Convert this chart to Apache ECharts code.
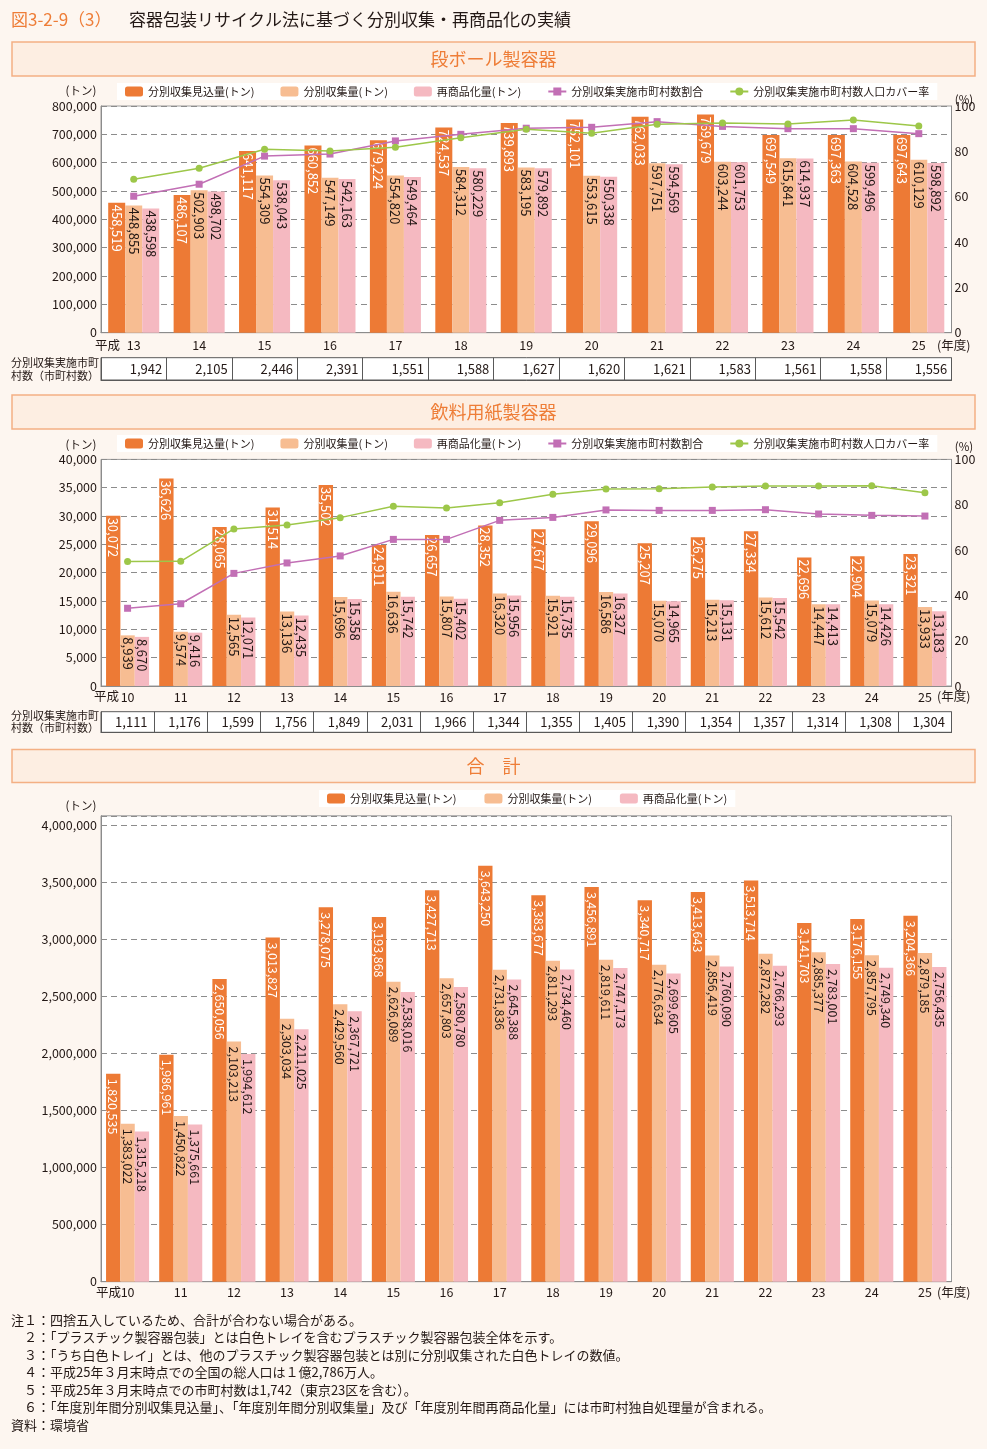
<!DOCTYPE html>
<html><head><meta charset="utf-8">
<script src="https://cdn.jsdelivr.net/npm/echarts@6/dist/echarts.min.js"></script>
<style>html,body{margin:0;padding:0;background:#fdf6f0;}#c{width:987px;height:1449px;}</style>
</head><body><div id="c"></div>
<script>
// ---------- data ----------
const yearsA = ['13','14','15','16','17','18','19','20','21','22','23','24','25'];
const yearsB = ['10','11','12','13','14','15','16','17','18','19','20','21','22','23','24','25'];
const seriesNames = ['分別収集見込量(トン)','分別収集量(トン)','再商品化量(トン)','分別収集実施市町村数割合','分別収集実施市町村数人口カバー率'];

// 段ボール製容器 (H13-H25)
const cardEst = [458519,486107,641117,660852,679224,724537,739893,752101,762033,769679,697549,697363,697643];
const cardCol = [448855,502903,554309,547149,554820,584312,583195,553615,597751,603244,615841,604528,610129];
const cardRec = [438598,498702,538043,542163,549464,580229,579892,550338,594569,601753,614937,599496,598892];
const cardMuniPct = [60.2,65.5,77.9,78.8,84.6,87.5,90.2,90.6,93.1,91.0,90.0,90.0,87.8];
const cardPopPct = [67.7,72.5,80.9,80.2,81.8,86.0,89.7,88.0,91.9,92.5,92.1,93.8,91.2];
const cardMuni = [1942,2105,2446,2391,1551,1588,1627,1620,1621,1583,1561,1558,1556];

// 飲料用紙製容器 (H10-H25)
const bevEst = [30072,36626,28065,31514,35502,24911,26657,28352,27677,29096,25207,26275,27334,22696,22904,23321];
const bevCol = [8939,9574,12565,13136,15696,16636,15807,16320,15921,16586,15070,15213,15612,14447,15079,13933];
const bevRec = [8670,9416,12071,12435,15358,15742,15402,15956,15735,16327,14965,15131,15542,14413,14426,13183];
const bevMuniPct = [34.3,36.3,49.7,54.3,57.4,64.7,64.7,73.1,74.4,77.7,77.5,77.5,77.8,75.9,75.3,75.0];
const bevPopPct = [54.9,55.0,69.3,71.1,74.3,79.3,78.6,80.9,84.6,86.9,87.1,87.8,88.3,88.3,88.4,85.3];
const bevMuni = [1111,1176,1599,1756,1849,2031,1966,1344,1355,1405,1390,1354,1357,1314,1308,1304];

// 合計 (H10-H25)
const totEst = [1820535,1986961,2650056,3013827,3278075,3193868,3427713,3643250,3383677,3456891,3340717,3413643,3513714,3141703,3176155,3204366];
const totCol = [1383022,1450822,2103213,2303034,2429560,2626089,2657803,2731836,2811293,2819611,2776634,2856419,2872282,2885377,2857795,2879185];
const totRec = [1315218,1375661,1994612,2211025,2367721,2538016,2580780,2645388,2734460,2747173,2699605,2760090,2766293,2783001,2749340,2756435];

const notes = [
  '注１：四捨五入しているため、合計が合わない場合がある。',
  '２：「プラスチック製容器包装」とは白色トレイを含むプラスチック製容器包装全体を示す。',
  '３：「うち白色トレイ」とは、他のプラスチック製容器包装とは別に分別収集された白色トレイの数値。',
  '４：平成25年３月末時点での全国の総人口は１億2,786万人。',
  '５：平成25年３月末時点での市町村数は1,742（東京23区を含む）。',
  '６：「年度別年間分別収集見込量」、「年度別年間分別収集量」及び「年度別年間再商品化量」には市町村独自処理量が含まれる。',
  '資料：環境省'
];

// ---------- style ----------
const FONT = '"Noto Sans CJK JP", "Noto Sans", sans-serif';
const TXT = '#231815';
const C = ['#ed7a35', '#f7bd92', '#f5b9c1'];
const C_MUNI = '#c26fb5', C_POP = '#9dc749';
const AX = '#8c8c8c';
const fmt = v => Number(v).toLocaleString('en-US');

function barSeries(xi, yi, datas, fs, dist, gap) {
  return datas.map((d, i) => ({
    name: seriesNames[i], type: 'bar', xAxisIndex: xi, yAxisIndex: yi, data: d,
    barGap: '0%', barCategoryGap: gap,
    itemStyle: { color: C[i] },
    label: { show: true, position: 'insideTop', distance: dist, rotate: -90, align: 'left', verticalAlign: 'middle',
      fontSize: fs, fontFamily: FONT, color: i === 0 ? '#fff' : TXT, formatter: p => fmt(p.value) },
    emphasis: { disabled: true }
  }));
}
function lineSeries(xi, yi, muni, pop) {
  return [
    { name: seriesNames[3], type: 'line', xAxisIndex: xi, yAxisIndex: yi, data: muni, symbol: 'rect', symbolSize: 7,
      lineStyle: { color: C_MUNI, width: 1.5 }, itemStyle: { color: C_MUNI }, z: 5, emphasis: { disabled: true } },
    { name: seriesNames[4], type: 'line', xAxisIndex: xi, yAxisIndex: yi, data: pop, symbol: 'circle', symbolSize: 7,
      lineStyle: { color: C_POP, width: 1.5 }, itemStyle: { color: C_POP }, z: 5, emphasis: { disabled: true } }
  ];
}
function catAxis(gi, data, margin) {
  return { type: 'category', gridIndex: gi, data, boundaryGap: true,
    axisLine: { lineStyle: { color: AX } },
    axisTick: { inside: true, length: 6, lineStyle: { color: AX } },
    axisLabel: { fontSize: 12.5, color: TXT, margin, interval: 0, fontFamily: FONT },
    splitLine: { show: false } };
}
function leftAxis(gi, max, interval, hideAbove) {
  return { type: 'value', gridIndex: gi, min: 0, max, interval, position: 'left',
    axisLine: { show: true, lineStyle: { color: AX } }, axisTick: { show: false },
    axisLabel: { fontSize: 12.5, color: TXT, margin: 4, fontFamily: FONT,
      formatter: v => (hideAbove && v > hideAbove) ? '' : fmt(v) },
    splitLine: { show: true, lineStyle: { color: AX, type: [6, 4], width: 1 } } };
}
function rightAxis(gi) {
  return { type: 'value', gridIndex: gi, min: 0, max: 100, interval: 20, position: 'right',
    axisLine: { show: true, lineStyle: { color: AX } }, axisTick: { show: false },
    axisLabel: { fontSize: 12.5, color: TXT, margin: 3, fontFamily: FONT },
    splitLine: { show: false } };
}
function tableAxis(gi, cats, counts, h, w) {
  return { type: 'category', gridIndex: gi, data: cats, boundaryGap: true, position: 'bottom',
    axisLine: { show: true, lineStyle: { color: '#595959' } }, axisTick: { show: false },
    splitLine: { show: true, interval: 0, lineStyle: { color: '#595959', width: 1 } },
    axisLabel: { inside: true, margin: h / 2, verticalAlign: 'middle', interval: 0, color: TXT, fontSize: 13, fontFamily: FONT,
      formatter: (v, i) => '{v|' + fmt(counts[i]) + '}',
      rich: { v: { width: w, align: 'right', fontSize: 13, color: TXT, fontFamily: FONT } } } };
}
function hiddenY(gi) { return { type: 'value', gridIndex: gi, show: false, min: 0, max: 1 }; }
function gridBox(top, height, border) {
  return { left: 101, top, width: 850.5, height, show: true, backgroundColor: '#fff',
    borderColor: border || '#9a9a9a', borderWidth: 1, containLabel: false, outerBoundsMode: 'none' };
}
function legend(data, left, top, gap) {
  return { data, left, top, orient: 'horizontal', itemWidth: 18, itemHeight: 10, itemGap: gap,
    backgroundColor: '#fff', padding: [3, 8], selectedMode: false,
    textStyle: { fontSize: 11, color: TXT, fontFamily: FONT } };
}
function txt(text, x, y, size, color, align) {
  return { type: 'text', z: 100, silent: true, style: { text, x, y, fill: color || TXT,
    font: size + 'px ' + FONT, textAlign: align || 'left', textVerticalAlign: 'middle',
    align: align || 'left', verticalAlign: 'middle' } };
}
function header(text, y, h) {
  return [
    { type: 'rect', z: 1, silent: true, shape: { x: 12, y, width: 963, height: h },
      style: { fill: '#fdeee2', stroke: '#f4b084', lineWidth: 1.5 } },
    txt(text, 493.5, y + h / 2, 18, '#ee7d37', 'center')
  ];
}

const graphics = [].concat(
  [txt('図3-2-9（3）', 11, 20, 17, '#ee7d37'),
   txt('容器包装リサイクル法に基づく分別収集・再商品化の実績', 129, 20, 17, TXT)],
  header('段ボール製容器', 42, 34),
  header('飲料用紙製容器', 395, 34),
  header('合　計', 749.5, 33),
  [
    txt('(トン)', 81, 91, 11.5, TXT, 'center'), txt('(%)', 964, 100, 11.5, TXT, 'center'),
    txt('平成', 120, 345, 12.5, TXT, 'right'), txt('(年度)', 937, 345, 12.5, TXT, 'left'),
    txt('分別収集実施市町', 11, 362.5, 11, TXT), txt('村数（市町村数）', 11, 375.5, 11, TXT),
    txt('(トン)', 81, 445, 11.5, TXT, 'center'), txt('(%)', 964, 447, 11.5, TXT, 'center'),
    txt('平成', 119, 696.5, 12.5, TXT, 'right'), txt('(年度)', 937, 696.5, 12.5, TXT, 'left'),
    txt('分別収集実施市町', 11, 715.5, 11, TXT), txt('村数（市町村数）', 11, 728, 11, TXT),
    txt('(トン)', 81, 806, 11.5, TXT, 'center'),
    txt('平成', 121, 1292, 12.5, TXT, 'right'), txt('(年度)', 937, 1292, 12.5, TXT, 'left')
  ],
  notes.map((n, i) => txt(n, (i === 0 || i === notes.length - 1) ? 11 : 24, 1320 + i * 17.5, 13, TXT))
);

const option = {
  backgroundColor: '#fdf6f0',
  animation: false,
  textStyle: { fontFamily: FONT },
  grid: [
    gridBox(106, 226.7),
    gridBox(459.4, 226.6),
    gridBox(815.8, 465.9),
    gridBox(357.7, 22.3, '#595959'),
    gridBox(711.7, 20.6, '#595959')
  ],
  xAxis: [
    catAxis(0, yearsA, 6),
    catAxis(1, yearsB, 4.5),
    catAxis(2, yearsB, 4),
    tableAxis(3, yearsA, cardMuni, 22.3, 57),
    tableAxis(4, yearsB, bevMuni, 20.6, 40)
  ],
  yAxis: [
    leftAxis(0, 800000, 100000),
    rightAxis(0),
    leftAxis(1, 40000, 5000),
    rightAxis(1),
    leftAxis(2, 4080000, 500000, 4000000),
    hiddenY(3),
    hiddenY(4)
  ],
  legend: [
    legend(seriesNames, 117, 83, 26),
    legend(seriesNames, 117, 435, 26),
    legend(seriesNames.slice(0, 3), 319, 790, 28)
  ],
  series: [].concat(
    barSeries(0, 0, [cardEst, cardCol, cardRec], 13, 2, '22%'),
    lineSeries(0, 1, cardMuniPct, cardPopPct),
    barSeries(1, 2, [bevEst, bevCol, bevRec], 13, 2, '19%'),
    lineSeries(1, 3, bevMuniPct, bevPopPct),
    barSeries(2, 4, [totEst, totCol, totRec], 12.5, 5, '19%')
  ),
  graphic: graphics
};

const chart = echarts.init(document.getElementById('c'), null, { renderer: 'canvas' });
chart.setOption(option);
</script>
</body></html>
